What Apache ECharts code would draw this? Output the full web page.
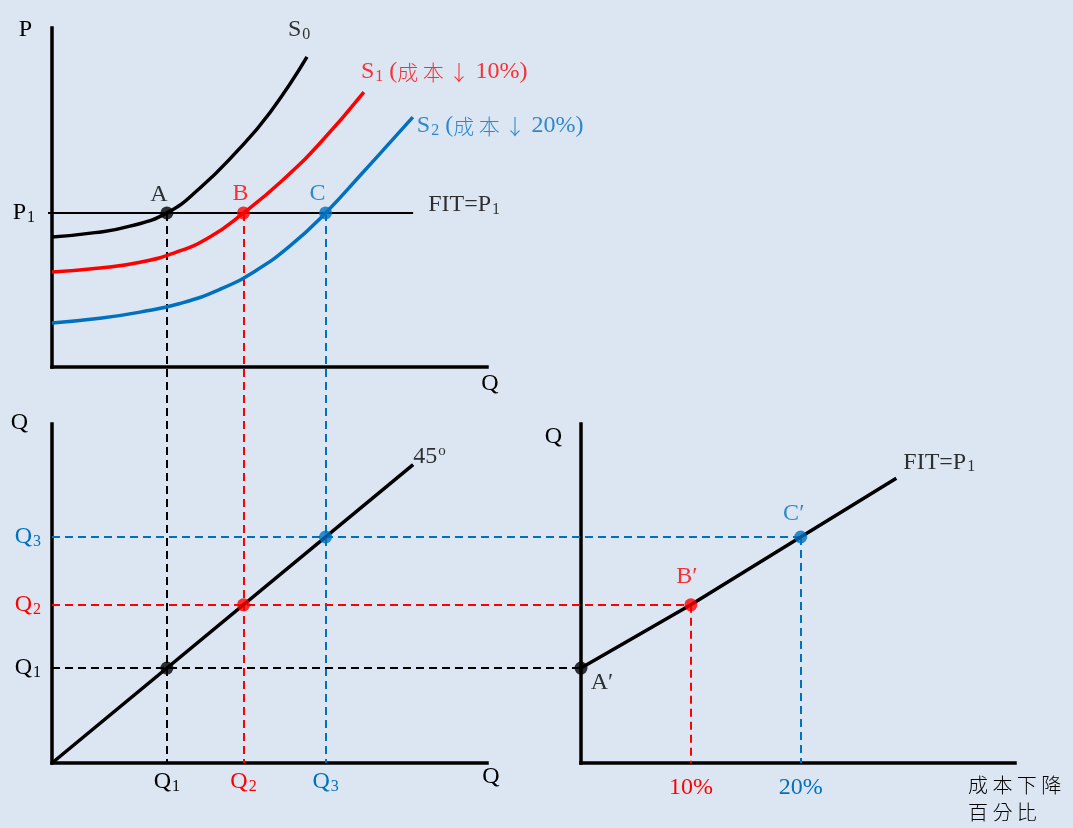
<!DOCTYPE html>
<html>
<head>
<meta charset="utf-8">
<script src="https://cdn.jsdelivr.net/npm/echarts@6/dist/echarts.min.js"></script>
<style>
  html, body { margin: 0; padding: 0; background: #dce6f2; }
  #chart { width: 1073px; height: 828px; }
</style>
</head>
<body>
<div id="chart"></div>
<script>
// ---- values ----
const quantities = [4.2, 7.0, 10.0];      // Q1, Q2, Q3 sold at the FIT price
const fitPrice = 5;                        // P1
const costCuts = [0, 10, 20];              // cost reduction (%) behind S0, S1, S2
const pointNames = ['A', 'B', 'C'];
const qNames = ['1', '2', '3'];

// supply curves [Q, P]
const supplyS0 = [[0, 4.22], [1.57, 4.36], [2.85, 4.57], [4.2, 5.0], [5.41, 5.81], [6.69, 6.93], [7.97, 8.26], [9.32, 10.06]];
const supplyS1 = [[0, 3.08], [1.75, 3.21], [3.22, 3.40], [4.50, 3.71], [5.77, 4.22], [7.0, 5.0], [8.44, 6.07], [9.80, 7.27], [11.40, 8.92]];
const supplyS2 = [[0, 1.43], [1.75, 1.58], [3.22, 1.78], [4.68, 2.06], [6.14, 2.52], [7.42, 3.11], [8.70, 3.93], [10.0, 5.0], [11.37, 6.32], [12.35, 7.28], [13.19, 8.11]];

const fitLineEnd = 13.2;                   // Q where the FIT = P1 line stops
const diagonalEnd = 13.2;                  // end of the 45 degree line
const fitResponseEnd = [28.7, 12.6];       // end of the FIT = P1 response line [%, Q]

// ---- styling ----
const SERIF = "'Liberation Serif','Times New Roman','Noto Sans CJK TC',serif";
const CJK = "'Noto Sans CJK TC','Noto Sans CJK SC',sans-serif";
const palette = { k: '#000000', r: '#ff0000', b: '#0070c0' };
const keys = ['k', 'r', 'b'];
const FS = 24;

function makeRich(size) {
  const rich = {};
  for (const k in palette) {
    rich[k] = { color: palette[k], fontFamily: SERIF, fontSize: size, lineHeight: size + 2 };
    rich[k + 's'] = { color: palette[k], fontFamily: SERIF, fontSize: Math.round(size * 0.68), padding: [Math.round(size * 0.4), 0, 0, 1] };
    rich[k + 'p'] = { color: palette[k], fontFamily: SERIF, fontSize: Math.round(size * 0.62), padding: [0, 0, Math.round(size * 0.45), 1] };
    rich[k + 'c'] = { color: palette[k], fontFamily: CJK, fontSize: size - 3, fontWeight: 300 };
  }
  return rich;
}
const RICH = makeRich(FS);
const sub = (main, s, c) => `{${c}|${main}}{${c}s|${s}}`;

// panel layout
const G = {
  top:   { left: 52,  top: 28,  width: 435, height: 339 },
  left:  { left: 52,  top: 424, width: 435, height: 339 },
  right: { left: 581, top: 424, width: 434, height: 339 }
};
const qMax = 15.9, pMax = 11, qMaxV = 15, cutMax = 39.5;

// connectors that run from one panel into the next
const pBelow = -((G.left.top + G.left.height) - (G.top.top + G.top.height)) / G.top.height * pMax;
const cutLeft = -(G.right.left - G.left.left) / G.right.width * cutMax;

const axisLineStyle = { color: '#000', width: 3.5, cap: 'square' };
function baseAxis(gridIndex, min, max) {
  return {
    type: 'value', gridIndex, min, max,
    axisLine: { show: true, onZero: false, lineStyle: axisLineStyle },
    axisTick: { show: false },
    axisLabel: { show: false },
    splitLine: { show: false },
    nameMoveOverlap: false
  };
}
const nameStyle = (extra) => Object.assign({ color: '#000', fontFamily: SERIF, fontSize: FS }, extra);

const xAxes = [
  Object.assign(baseAxis(0, 0, qMax), {
    name: 'Q', nameLocation: 'end', nameGap: 3,
    nameTextStyle: nameStyle({ align: 'center', verticalAlign: 'top', padding: [5, 0, 0, 0] })
  }),
  Object.assign(baseAxis(1, 0, qMax), {
    name: 'Q', nameLocation: 'end', nameGap: 4,
    nameTextStyle: nameStyle({ align: 'center', verticalAlign: 'top', padding: [2, 0, 0, 0] }),
    axisLabel: {
      show: true, customValues: quantities, margin: 6,
      formatter: (v) => { const i = quantities.indexOf(v); return sub('Q', qNames[i], keys[i]); },
      rich: RICH
    }
  }),
  Object.assign(baseAxis(2, 0, cutMax), {
    name: '成 本 下 降\n百 分 比', nameLocation: 'end', nameGap: -47,
    nameTextStyle: { color: '#000', fontFamily: CJK, fontSize: 20, fontWeight: 300, lineHeight: 27, align: 'left', verticalAlign: 'top', padding: [9, 0, 0, 0] },
    axisLabel: {
      show: true, customValues: costCuts.slice(1), margin: 12,
      formatter: (v) => { const i = costCuts.indexOf(v); return `{${keys[i]}|${v}%}`; },
      rich: RICH
    }
  })
];

const yAxes = [
  Object.assign(baseAxis(0, 0, pMax), {
    name: 'P', nameLocation: 'end', nameGap: -2,
    nameTextStyle: nameStyle({ align: 'right', verticalAlign: 'middle', padding: [0, 20, 0, 0] }),
    axisTick: { show: true, customValues: [fitPrice], length: 4, lineStyle: { color: '#000', width: 2 } },
    axisLabel: { show: true, customValues: [fitPrice], margin: 17, formatter: () => sub('P', '1', 'k'), rich: RICH }
  }),
  Object.assign(baseAxis(1, 0, qMaxV), {
    name: 'Q', nameLocation: 'end', nameGap: 1,
    nameTextStyle: nameStyle({ align: 'right', verticalAlign: 'middle', padding: [0, 24, 0, 0] }),
    axisLabel: {
      show: true, customValues: quantities, margin: 11,
      formatter: (v) => { const i = quantities.indexOf(v); return sub('Q', qNames[i], keys[i]); },
      rich: RICH
    }
  }),
  Object.assign(baseAxis(2, 0, qMaxV), {
    name: 'Q', nameLocation: 'end', nameGap: -13,
    nameTextStyle: nameStyle({ align: 'right', verticalAlign: 'middle', padding: [0, 19, 0, 0] })
  })
];

const dash = (c) => ({ color: c, width: 2, type: [8, 5], opacity: 1, curveness: 0 });
const series = [];

// dashed guides: from each equilibrium point down to the bottom Q axis
series.push({
  type: 'lines', coordinateSystem: 'cartesian2d', xAxisIndex: 0, yAxisIndex: 0,
  clip: false, silent: true, z: 1,
  data: quantities.map((q, i) => ({ coords: [[q, fitPrice], [q, pBelow]], lineStyle: dash(palette[keys[i]]) }))
});
// dashed guides: from the Q axis across to the cost-reduction panel, then down to its axis
series.push({
  type: 'lines', coordinateSystem: 'cartesian2d', xAxisIndex: 2, yAxisIndex: 2,
  clip: false, silent: true, z: 1,
  data: quantities.map((q, i) => ({ coords: [[cutLeft, q], [costCuts[i], q]], lineStyle: dash(palette[keys[i]]) }))
    .concat(quantities.map((q, i) => ({ coords: [[costCuts[i], q], [costCuts[i], 0]], lineStyle: dash(palette[keys[i]]) }))
      .filter((d, i) => costCuts[i] > 0))
});

// FIT = P1 price line
series.push({
  type: 'line', xAxisIndex: 0, yAxisIndex: 0, z: 2, silent: true, symbol: 'none',
  lineStyle: { color: '#000', width: 2 },
  data: [[0, fitPrice], [fitLineEnd, fitPrice]]
});

// supply curves
[supplyS0, supplyS1, supplyS2].forEach((curve, i) => {
  series.push({
    type: 'line', xAxisIndex: 0, yAxisIndex: 0, z: 2, silent: true, symbol: 'none',
    smooth: 0.5,
    lineStyle: { color: palette[keys[i]], width: 3.5 },
    data: curve
  });
});

// 45 degree line
series.push({
  type: 'line', xAxisIndex: 1, yAxisIndex: 1, z: 2, silent: true, symbol: 'none',
  lineStyle: { color: '#000', width: 3.5 },
  data: [[0, 0], [diagonalEnd, diagonalEnd]]
});

// quantity response to cost reduction under FIT = P1
series.push({
  type: 'line', xAxisIndex: 2, yAxisIndex: 2, z: 2, silent: true, symbol: 'none',
  lineStyle: { color: '#000', width: 3.5 },
  data: costCuts.map((c, i) => [c, quantities[i]]).concat([fitResponseEnd])
});

const dotLabel = (text, offset, extra) => Object.assign({
  show: true, position: 'inside', offset, formatter: text, rich: RICH
}, extra || {});

// equilibrium points A, B, C
const topOffsets = [[-8, -18], [-3, -19], [-8, -19]];
series.push({
  type: 'scatter', xAxisIndex: 0, yAxisIndex: 0, z: 3, silent: true, symbolSize: 13,
  data: quantities.map((q, i) => ({
    value: [q, fitPrice],
    itemStyle: { color: palette[keys[i]] },
    label: dotLabel(`{${keys[i]}|${pointNames[i]}}`, topOffsets[i])
  }))
});
// points on the 45 degree line
series.push({
  type: 'scatter', xAxisIndex: 1, yAxisIndex: 1, z: 3, silent: true, symbolSize: 13,
  data: quantities.map((q, i) => ({ value: [q, q], itemStyle: { color: palette[keys[i]] } }))
});
// A', B', C'
const rightOffsets = [[21, 15], [-4, -28], [-7, -23]];
series.push({
  type: 'scatter', xAxisIndex: 2, yAxisIndex: 2, z: 3, silent: true, symbolSize: 13,
  data: quantities.map((q, i) => ({
    value: [costCuts[i], q],
    itemStyle: { color: palette[keys[i]] },
    label: dotLabel(`{${keys[i]}|${pointNames[i]}\u2032}`, rightOffsets[i])
  }))
});

// curve and line names at their ends
const endOf = (arr) => arr[arr.length - 1];
const note = (value, text, offset) => ({
  value, itemStyle: { color: 'transparent' },
  label: dotLabel(text, offset, { align: 'left' })
});
const costNote = (c, pct) => `{${c}| (}{${c}c|成 本 ↓}{${c}| ${pct}%)}`;
series.push({
  type: 'scatter', xAxisIndex: 0, yAxisIndex: 0, z: 4, silent: true, symbolSize: 1,
  data: [
    note(endOf(supplyS0), sub('S', '0', 'k'), [-19, -27]),
    note(endOf(supplyS1), sub('S', '1', 'r') + costNote('r', costCuts[1]), [-3, -20]),
    note(endOf(supplyS2), sub('S', '2', 'b') + costNote('b', costCuts[2]), [4, 9]),
    note([fitLineEnd, fitPrice], '{k|FIT=P}{ks|1}', [15, -8])
  ]
});
series.push({
  type: 'scatter', xAxisIndex: 1, yAxisIndex: 1, z: 4, silent: true, symbolSize: 1,
  data: [note([diagonalEnd, diagonalEnd], '{k|45}{kp|o}', [0, -8])]
});
series.push({
  type: 'scatter', xAxisIndex: 2, yAxisIndex: 2, z: 4, silent: true, symbolSize: 1,
  data: [note(fitResponseEnd, '{k|FIT=P}{ks|1}', [7, -16])]
});

const chart = echarts.init(document.getElementById('chart'), null, { renderer: 'canvas' });
chart.setOption({
  backgroundColor: '#dce6f2',
  animation: false,
  grid: [
    Object.assign({ outerBoundsMode: 'none', containLabel: false }, G.top),
    Object.assign({ outerBoundsMode: 'none', containLabel: false }, G.left),
    Object.assign({ outerBoundsMode: 'none', containLabel: false }, G.right)
  ],
  xAxis: xAxes,
  yAxis: yAxes,
  series
});
</script>
</body>
</html>
